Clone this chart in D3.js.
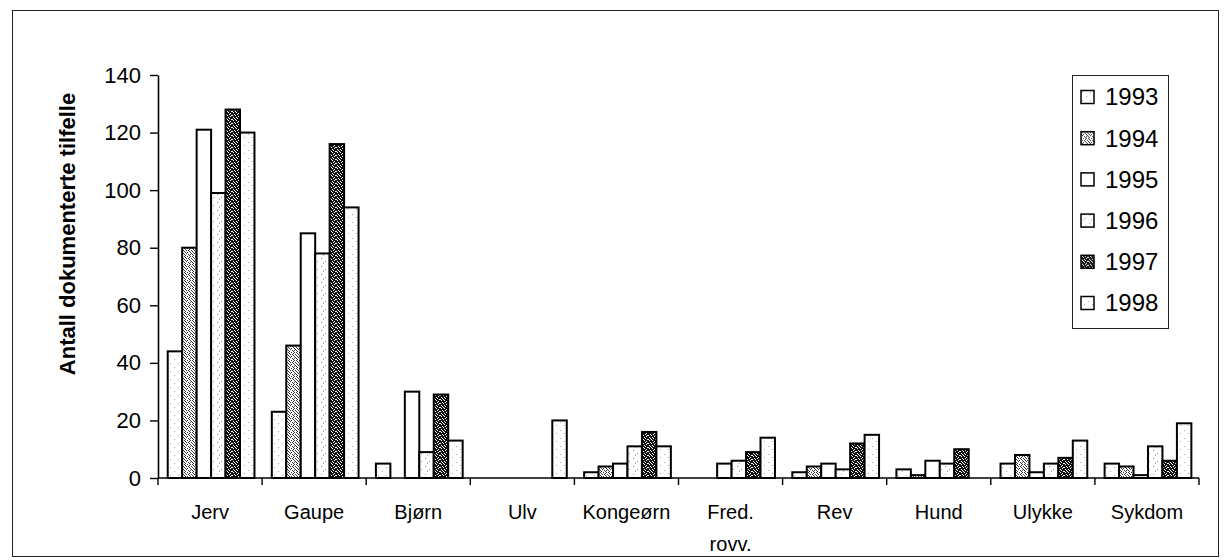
<!DOCTYPE html>
<html>
<head>
<meta charset="utf-8">
<script src="https://cdn.jsdelivr.net/npm/d3@7"></script>
<style>
  html, body { margin: 0; padding: 0; background: #fff; }
  svg { display: block; }
  text { font-family: "Liberation Sans", Arial, sans-serif; fill: #000; }
</style>
</head>
<body>
<svg id="chart" width="1229" height="560"></svg>
<script>
// ---- data ----
const categories = ["Jerv", "Gaupe", "Bjørn", "Ulv", "Kongeørn", "Fred.\nrovv.", "Rev", "Hund", "Ulykke", "Sykdom"];
const years = ["1993", "1994", "1995", "1996", "1997", "1998"];
const v1993 = [44, 23, 5, 0, 2, 0, 2, 3, 5, 5];
const v1994 = [80, 46, 0, 0, 4, 0, 4, 1, 8, 4];
const v1995 = [121, 85, 30, 0, 5, 5, 5, 6, 2, 1];
const v1996 = [99, 78, 9, 0, 11, 6, 3, 5, 5, 11];
const v1997 = [128, 116, 29, 0, 16, 9, 12, 10, 7, 6];
const v1998 = [120, 94, 13, 20, 11, 14, 15, 0, 13, 19];
const yTicks = [0, 20, 40, 60, 80, 100, 120, 140];
const yTitle = "Antall dokumenterte tilfelle";

const seriesValues = [v1993, v1994, v1995, v1996, v1997, v1998];

// ---- layout ----
const svg = d3.select("#chart");
const W = 1229, H = 560;
const plot = { left: 158, right: 1199, top: 75, bottom: 478 };

svg.append("rect").attr("x", 0).attr("y", 0).attr("width", W).attr("height", H).attr("fill", "#fff");

// ---- patterns (textures only) ----
const defs = svg.append("defs");
function tile(id, size, bg, fg, pts) {
  const p = defs.append("pattern").attr("id", id).attr("patternUnits", "userSpaceOnUse")
    .attr("width", size).attr("height", size);
  p.append("rect").attr("width", size).attr("height", size).attr("fill", bg);
  pts.forEach(([px, py]) => p.append("rect").attr("x", px).attr("y", py)
    .attr("width", 1).attr("height", 1).attr("fill", fg));
}
tile("p1993", 8, "#fff", "#aaa", [[2, 3], [6, 7]]);
tile("p1996", 8, "#fff", "#999", [[1, 2], [5, 5], [3, 7]]);
tile("p1998", 8, "#fff", "#aaa", [[4, 1], [0, 6]]);
tile("p1994", 8, "#fff", "#333",
  [[0,0],[3,0],[6,0],[1,1],[5,1],[2,2],[4,2],[7,2],[0,3],[5,3],[1,4],[3,4],[6,4],[2,5],[7,5],[0,6],[4,6],[1,7],[5,7],[6,6]]);
tile("p1997", 8, "#111", "#fff",
  [[1,0],[4,0],[6,1],[2,2],[5,2],[0,3],[3,3],[7,3],[6,4],[1,5],[4,5],[2,6],[5,6],[7,7],[0,7],[3,7]]);
const fills = { "1993": "url(#p1993)", "1994": "url(#p1994)", "1995": "#fff",
                "1996": "url(#p1996)", "1997": "url(#p1997)", "1998": "url(#p1998)" };

// frame
svg.append("rect").attr("x", 12.5).attr("y", 10.5).attr("width", 1206).attr("height", 546)
  .attr("fill", "none").attr("stroke", "#222").attr("stroke-width", 1);

// ---- scales ----
const x = d3.scaleBand().domain(categories).range([plot.left, plot.right]).padding(0);
const xs = d3.scaleBand().domain(years).range([0, x.bandwidth()]).paddingInner(0).paddingOuter(0.6).align(0.56);
const y = d3.scaleLinear().domain([0, 140]).range([plot.bottom, plot.top]);

// ---- bars ----
const data = [];
categories.forEach((c, i) => years.forEach((yr, j) => data.push({ c, yr, v: seriesValues[j][i] })));
svg.append("g").selectAll("rect").data(data.filter(d => d.v > 0)).join("rect")
  .attr("x", d => x(d.c) + xs(d.yr))
  .attr("y", d => y(d.v))
  .attr("width", xs.bandwidth())
  .attr("height", d => y(0) - y(d.v))
  .attr("fill", d => fills[d.yr])
  .attr("stroke", "#000").attr("stroke-width", 2);

// ---- y axis ----
const yAxis = svg.append("g").attr("transform", `translate(${plot.left},0)`)
  .call(d3.axisLeft(y).tickValues(yTicks).tickSize(8).tickPadding(9).tickSizeOuter(0));
yAxis.select(".domain").attr("stroke", "#000").attr("stroke-width", 1.6);
yAxis.selectAll(".tick line").attr("stroke", "#000").attr("stroke-width", 1.4);
yAxis.selectAll(".tick text").attr("font-size", 22).attr("font-family", '"Liberation Sans", Arial, sans-serif');

// ---- x axis ----
const xAxisG = svg.append("g");
xAxisG.append("line").attr("x1", plot.left).attr("x2", plot.right).attr("y1", y(0)).attr("y2", y(0))
  .attr("stroke", "#000").attr("stroke-width", 1.6);
const boundaries = categories.map(c => x(c)).concat([x(categories[categories.length - 1]) + x.bandwidth()]);
xAxisG.selectAll("line.tk").data(boundaries).join("line").attr("class", "tk")
  .attr("x1", d => d).attr("x2", d => d).attr("y1", y(0)).attr("y2", y(0) + 7)
  .attr("stroke", "#000").attr("stroke-width", 1.4);
const catLabels = xAxisG.selectAll("text.cat").data(categories).join("text").attr("class", "cat")
  .attr("x", d => x(d) + x.bandwidth() / 2)
  .attr("y", y(0) + 41)
  .attr("text-anchor", "middle").attr("font-size", 20);
catLabels.each(function (d) {
  const t = d3.select(this);
  d.split("\n").forEach((line, k) => {
    t.append("tspan").attr("x", x(d) + x.bandwidth() / 2).attr("dy", k === 0 ? 0 : 32).text(line);
  });
});

// ---- y title ----
svg.append("text").attr("transform", "translate(75,234) rotate(-90)")
  .attr("text-anchor", "middle").attr("font-size", 22).attr("font-weight", "bold").text(yTitle);

// ---- legend ----
const lg = svg.append("g");
lg.append("rect").attr("x", 1072.5).attr("y", 75.5).attr("width", 96).attr("height", 253)
  .attr("fill", "#fff").attr("stroke", "#222").attr("stroke-width", 1);
const ly = d3.scalePoint().domain(years).range([97, 303]);
const items = lg.selectAll("g.item").data(years).join("g").attr("class", "item")
  .attr("transform", d => `translate(0,${ly(d)})`);
items.append("rect").attr("x", 1081).attr("y", -6.5).attr("width", 13).attr("height", 13)
  .attr("fill", d => fills[d]).attr("stroke", "#000").attr("stroke-width", 1.5);
items.append("text").attr("x", 1105).attr("y", 0).attr("dy", "0.35em")
  .attr("font-size", 24).text(d => d);
</script>
</body>
</html>
